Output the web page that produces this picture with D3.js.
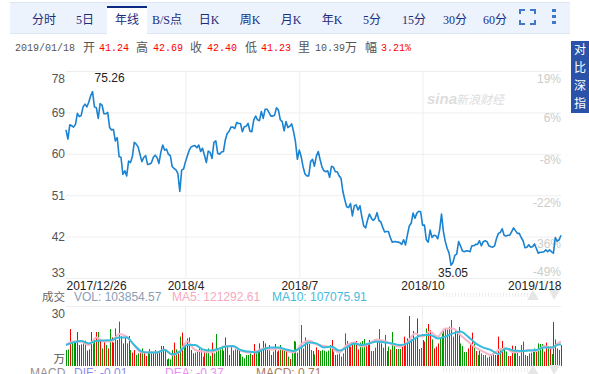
<!DOCTYPE html>
<html>
<head>
<meta charset="utf-8">
<script src="https://cdnjs.cloudflare.com/ajax/libs/d3/7.8.5/d3.min.js"></script>
<style>
  html, body { margin: 0; padding: 0; background: #fff; overflow: hidden; }
  svg { display: block; }
  text { font-family: "Liberation Sans", Arial, sans-serif; }
  .cjk { font-family: "Noto Sans CJK SC", sans-serif; }
  .tab { font-family: "Liberation Serif", "Noto Sans CJK SC", serif; }
  .mono { font-family: "Liberation Mono", "Noto Sans CJK SC", monospace; }
</style>
</head>
<body>
<div id="chart"></div>
<script>
// price per trading day
const prices = [
  65.2,63.2,66.3,66.1,65.8,66.4,68.8,68.1,68.3,70.2,
  70.8,70.2,71.2,72.6,73.5,70.2,70.0,67.7,70.9,70.6,
  68.7,68.7,69.0,65.7,65.2,65.3,62.8,63.5,59.4,59.2,
  55.5,56.3,55.2,58.4,58.1,59.4,62.5,62.1,61.5,59.9,
  58.3,59.2,59.6,57.7,57.8,58.0,59.2,59.7,59.2,57.9,
  60.3,61.9,60.8,61.0,59.9,59.6,57.2,56.8,56.5,55.7,
  51.8,56.5,56.7,58.3,59.6,60.8,61.5,61.7,61.8,61.3,
  61.9,60.5,61.2,59.7,58.1,60.6,60.3,59.0,62.5,62.8,
  60.1,59.9,60.4,60.5,63.0,64.4,64.9,65.8,65.8,65.5,
  66.8,66.6,66.6,64.8,65.9,66.0,66.6,64.9,64.8,67.4,
  68.2,67.4,67.2,69.2,67.7,69.7,69.7,69.0,68.2,68.2,
  68.4,70.0,69.5,67.4,67.0,65.0,67.0,65.7,66.0,66.5,
  64.8,62.6,58.8,60.8,59.4,57.2,55.6,55.2,55.2,58.3,
  58.8,57.3,59.5,60.5,58.7,57.1,56.3,56.1,56.3,54.9,
  57.3,57.1,56.1,56.1,55.2,54.7,51.8,50.0,48.5,48.3,
  49.2,46.5,48.7,48.9,47.8,48.7,46.3,44.3,43.9,45.6,
  46.9,46.0,45.5,46.0,47.2,45.5,45.2,44.0,43.0,43.1,
  43.1,41.8,40.8,40.9,40.9,40.8,40.7,40.3,41.3,40.2,
  42.3,44.3,44.9,47.1,46.0,47.1,47.5,47.4,44.5,44.5,
  41.3,40.8,43.4,41.8,42.3,42.2,41.5,43.4,46.9,43.1,
  40.9,39.4,38.4,35.8,36.3,37.9,38.2,40.9,40.0,38.9,
  38.7,38.9,38.9,38.7,40.0,40.0,40.3,40.3,41.1,40.0,
  40.9,41.1,40.9,40.0,39.8,39.7,40.0,41.6,42.7,42.9,
  43.7,42.3,42.1,42.3,42.3,43.1,43.9,43.3,42.7,42.7,
  41.8,41.1,39.6,39.7,40.2,39.7,39.8,40.4,39.4,38.4,
  38.6,38.6,38.7,39.1,38.7,39.1,38.7,38.4,41.8,41.0,
  41.3,42.3
];

// volume in 万 per trading day
const volumes = [
  8,8.3,18.5,12.2,12.2,12.2,17,10.5,10.8,11.3,
  12.7,7.7,8.3,17,11.3,13,17,17,13,8.8,
  12.2,10.5,8.8,18.5,14.3,11.7,18.8,13,22.2,15,
  11.3,14.7,11.3,15,8,6.7,8,5.5,6.3,7.2,
  8.8,6.7,5,7.2,8.5,7.2,7.2,8,7.2,7.2,
  10,10,8,3.3,3.8,3.3,8,11.7,8.3,7.2,
  14.7,16.7,10,10.5,13.8,14.3,8,6.3,6.7,7.2,
  8.8,8.8,4.7,7.2,8,8.8,5,11.7,6.3,16,
  8.8,8.8,9.7,7.7,14.3,9.7,5.5,10.5,7.7,8.3,
  8.3,8,6,4.7,3.8,5.5,5.5,6.3,5.5,11,
  6.3,7.2,11.3,8.8,12.5,11.3,8,10.5,5.5,7.2,
  11,7.2,7.8,10.5,8,8,8.3,4.7,3.5,7.2,
  12.5,12.2,6.7,10,20.5,8.8,14.3,12.2,11,8,
  7.5,5.8,9.3,8,7.5,8,7.7,7.2,7.7,10.5,
  13,7.2,5.5,5.8,6.3,4.7,6.3,16.3,12.5,10.5,
  9.7,10.5,11.3,12.5,8.3,11.7,12.5,13.5,10.5,10.8,
  13,7.5,7.5,9.2,12.5,18.5,11.3,9.2,15.5,7.5,
  9.7,8.3,17,10.5,8.5,8.5,8.5,9.7,14.7,10.5,
  13.8,25,13.3,17.5,13.8,23.8,8.5,9,13,12.2,
  18.8,21,18,13.3,8.8,9.7,11.3,13.8,16.3,18.3,
  18.8,18.3,19.7,23,14.7,18,16.3,19.5,11.3,10,
  7,7,8.8,11.3,16.7,11.3,7.5,5.5,8.3,6.3,
  5.5,5.5,4.2,4.7,5.5,7,5.5,5.5,14.7,8.8,
  12.5,9.2,7.2,5,5,10.2,8,10,8,5,
  10.5,12.2,5.5,5,6.3,6.7,7,8.8,7.2,11.3,
  11,11,7.2,11.7,9.7,9.7,6,22,13.3,8.8,
  8,10.4
];

// 1 = up day (red bar), 0 = down day (green bar)
const upDays = [
  0,0,1,0,0,1,1,1,1,0, 0,1,1,1,0,0,1,0,1,0, 1,0,1,0,1,1,0,1,0,0,
  1,1,0,1,0,1,1,0,0,1, 0,1,1,0,0,1,1,0,1,1, 1,1,0,1,0,0,0,1,0,1,
  0,1,0,1,1,1,1,1,0,0, 0,1,0,1,0,0,0,1,0,0, 0,0,0,1,1,0,1,0,1,0,
  1,1,0,0,0,0,0,0,1,1, 0,0,1,1,1,1,1,0,1,0, 1,0,1,0,1,0,1,0,1,0,
  0,0,1,0,0,1,0,1,1,0, 1,0,1,1,0,0,0,0,0,0, 1,0,1,1,0,0,0,0,0,0,
  1,1,0,1,1,0,0,0,1,1, 1,0,0,0,1,0,1,0,0,1, 0,1,0,0,1,0,0,1,1,0,
  1,1,1,1,0,1,0,0,1,1, 0,1,1,0,1,1,1,0,0,0, 0,0,0,0,0,1,1,1,0,0,
  0,0,1,1,1,0,1,0,1,0, 0,0,0,0,1,0,1,1,1,0, 1,0,0,1,1,1,0,1,0,0,
  0,0,0,1,0,0,0,0,1,0, 0,0,1,1,0,1,0,1,0,0, 0,1
];

// moving averages read at every 4th day, plus the last day
const maDays = [...d3.range(0, 262, 4), 261];
const ma5 = [
  10.5,12.2,12.2,10.5,14.3,12.2,12.2,16,14.7,10.2,6.7,6.8,6.8,8.3,5.5,7.2,12.2,
  8,7.2,6.8,8,10,9.7,7.7,6.7,7.2,8.8,8.3,8.8,7.7,6.8,10.8,12.7,
  10.8,10,9.3,6.7,10.5,11.8,9.7,11.3,13.3,12.5,10.8,9.7,11.7,16.3,14.7,
  17.2,14.7,18.8,18.8,15.5,12.2,9.2,7.2,5.5,8,8.8,6.7,7.2,8,7.5,10,8.8,11.8,
  12.1
];
const ma10 = [
  10.5,11.8,12.5,11.3,12.5,12.8,13,14.3,14.3,10.5,7.2,6.7,6.8,8,5.8,7.2,10.5,
  10.5,8.3,7.7,8.5,9.7,10,8,7.2,6.8,8.3,9.2,9.2,8.3,7.5,9.3,11.8,
  11.3,9.3,9.7,7.7,9.3,11.3,10.5,11.3,12.2,11.8,11.3,10.5,11.3,13.8,15.5,
  15.5,13.8,14.7,16.3,17.2,14.7,11.3,9.2,8,6,8.8,7.7,7.5,7.7,8,9.2,9.2,10.8,
  10.7
];

const priceTicks = [78, 69, 60, 51, 42, 33];
const pctLabels = ['19%', '6%', '-8%', '-22%', '-36%', '-49%'];
const dateTicks = [0, 63, 123, 188, 261];
const dateLabels = ['2017/12/26', '2018/4', '2018/7', '2018/10', '2019/1/18'];
const tabLabels = ['分时', '5日', '年线', 'B/S点', '日K', '周K', '月K', '年K', '5分', '15分', '30分', '60分'];
const quoteNames = ['开', '高', '收', '低'];
const quoteValues = ['41.24', '42.69', '42.40', '41.23'];

const width = 589;
const height = 374;
const left = 66;
const right = 561;
const priceTop = 71;
const priceBottom = 278;
const volTop = 306;
const volBottom = 366;

const svg = d3.select('#chart').append('svg')
  .attr('width', width)
  .attr('height', height);

const x = d3.scaleLinear().domain([0, prices.length - 1]).range([left, right]);
const y = d3.scaleLinear().domain([33, 78]).range([priceBottom, priceTop]);
const yVol = d3.scaleLinear().domain([0, 30]).range([volBottom, volTop]);

// toolbar
const tabX = [44, 85, 127, 167, 209, 250, 291, 332, 372, 414, 455, 495];
svg.append('rect').attr('x', 10).attr('y', 2).attr('width', 560).attr('height', 31)
  .attr('fill', '#edf3fc');
svg.append('line').attr('x1', 10).attr('x2', 570).attr('y1', 2.5).attr('y2', 2.5).attr('stroke', '#dce5f2');
svg.append('line').attr('x1', 10).attr('x2', 570).attr('y1', 33.5).attr('y2', 33.5).attr('stroke', '#dce5f2');
svg.append('rect').attr('x', 107).attr('y', 6).attr('width', 40).attr('height', 28).attr('fill', '#fff');
svg.append('rect').attr('x', 107).attr('y', 6).attr('width', 40).attr('height', 2).attr('fill', '#0c2a82');

svg.selectAll('.tab').data(tabLabels).enter().append('text')
  .attr('class', 'tab')
  .attr('x', (d, i) => tabX[i])
  .attr('y', 24)
  .attr('text-anchor', 'middle')
  .attr('font-size', 12)
  .attr('fill', '#1c2d7c')
  .text(d => d);

// full screen corners and the menu dots
const corners = ['M520 14V10H525', 'M530 10H535V14', 'M520 20V24H525', 'M530 24H535V20'];
svg.selectAll('.corner').data(corners).enter().append('path')
  .attr('class', 'corner')
  .attr('d', d => d)
  .attr('fill', 'none')
  .attr('stroke', '#3f78c8')
  .attr('stroke-width', 2);
svg.selectAll('.dot').data([9, 15, 21]).enter().append('rect')
  .attr('class', 'dot')
  .attr('x', 552).attr('y', d => d)
  .attr('width', 4).attr('height', 3)
  .attr('fill', '#3f78c8');

// quote row
const quoteRow = svg.append('g');
quoteRow.append('text').attr('class', 'mono').attr('x', 15).attr('y', 51)
  .attr('font-size', 10).attr('fill', '#555').text('2019/01/18');
const quoteNameX = [83, 136, 190, 245];
const quoteValueX = [99, 153, 207, 261];
quoteNames.forEach((name, i) => {
  quoteRow.append('text').attr('class', 'cjk').attr('x', quoteNameX[i]).attr('y', 52)
    .attr('font-size', 12).attr('fill', '#555').text(name);
  quoteRow.append('text').attr('class', 'mono').attr('x', quoteValueX[i]).attr('y', 51)
    .attr('font-size', 10).attr('fill', '#f00').text(quoteValues[i]);
});
quoteRow.append('text').attr('class', 'cjk').attr('x', 298).attr('y', 52)
  .attr('font-size', 12).attr('fill', '#555').text('里');
quoteRow.append('text').attr('class', 'mono').attr('x', 315).attr('y', 51)
  .attr('font-size', 10).attr('fill', '#555').text('10.39');
quoteRow.append('text').attr('class', 'cjk').attr('x', 345).attr('y', 52)
  .attr('font-size', 12).attr('fill', '#555').text('万');
quoteRow.append('text').attr('class', 'cjk').attr('x', 365).attr('y', 52)
  .attr('font-size', 12).attr('fill', '#555').text('幅');
quoteRow.append('text').attr('class', 'mono').attr('x', 381).attr('y', 51)
  .attr('font-size', 10).attr('fill', '#f00').text('3.21%');

// side button
svg.append('rect').attr('x', 571).attr('y', 41).attr('width', 18).attr('height', 72).attr('fill', '#2a52a8');
svg.selectAll('.side').data(['对', '比', '深', '指']).enter().append('text')
  .attr('class', 'side cjk')
  .attr('x', 580)
  .attr('y', (d, i) => 54 + i * 18)
  .attr('text-anchor', 'middle')
  .attr('font-size', 12)
  .attr('fill', '#fff')
  .text(d => d);

// price grid and axes
const axisY = svg.append('g')
  .attr('transform', `translate(${left}, 0)`)
  .call(d3.axisLeft(y).tickValues(priceTicks).tickSize(-(right - left)).tickPadding(1));
axisY.select('.domain').remove();
axisY.selectAll('line').attr('stroke', '#eee');
axisY.selectAll('text')
  .attr('font-size', 12)
  .attr('fill', '#555')
  .attr('dy', d => (d === 78 ? 11 : d === 33 ? -2 : 4));

const axisX = svg.append('g')
  .attr('transform', `translate(0, ${priceBottom})`)
  .call(d3.axisBottom(x)
    .tickValues(dateTicks)
    .tickFormat((d, i) => dateLabels[i])
    .tickSize(-(priceBottom - priceTop))
    .tickPadding(3));
axisX.select('.domain').remove();
axisX.selectAll('line')
  .attr('stroke', '#eee')
  .attr('display', (d, i) => (i === 0 || i === 4 ? 'none' : null));
axisX.selectAll('text')
  .attr('font-size', 12)
  .attr('fill', '#222')
  .attr('text-anchor', (d, i) => (i === 0 ? 'start' : i === 4 ? 'end' : 'middle'));

// watermark
svg.append('text').attr('x', 427).attr('y', 104)
  .attr('font-size', 15).attr('font-weight', 'bold').attr('font-style', 'italic')
  .attr('fill', '#ddd').text('sina');
svg.append('text').attr('class', 'cjk').attr('x', 456).attr('y', 104)
  .attr('font-size', 12).attr('font-style', 'italic').attr('fill', '#ddd').text('新浪财经');

// percent labels on the right
const pctDy = [8, 6, 6, 8, 7, -6];
svg.selectAll('.pct').data(priceTicks).enter().append('text')
  .attr('class', 'pct')
  .attr('x', right)
  .attr('y', d => y(d))
  .attr('dy', (d, i) => pctDy[i] + 4)
  .attr('text-anchor', 'end')
  .attr('font-size', 12)
  .attr('fill', '#ccc')
  .text((d, i) => pctLabels[i]);

// price line
const priceLine = d3.line().x((d, i) => x(i)).y(d => y(d));
svg.append('path')
  .datum(prices)
  .attr('d', priceLine)
  .attr('fill', 'none')
  .attr('stroke', '#1a82d0')
  .attr('stroke-width', 1.6)
  .attr('stroke-linejoin', 'round');

// high and low marks
const peakDay = d3.maxIndex(prices);
const lowDay = d3.minIndex(prices);
svg.append('text').attr('x', x(peakDay) + 17).attr('y', y(prices[peakDay]) - 10)
  .attr('text-anchor', 'middle').attr('font-size', 12).attr('fill', '#222').text('75.26');
svg.append('text').attr('x', x(lowDay) + 2).attr('y', y(prices[lowDay]) + 12)
  .attr('text-anchor', 'middle').attr('font-size', 12).attr('fill', '#222').text('35.05');

// volume legend
const legend = [
  { label: 'VOL: 103854.57', px: 74, color: '#8c9db5' },
  { label: 'MA5: 121292.61', px: 172, color: '#f7a8c0' },
  { label: 'MA10: 107075.91', px: 272, color: '#45bcdc' },
];
svg.append('text').attr('class', 'cjk').attr('x', 42).attr('y', 301)
  .attr('font-size', 11.5).attr('fill', '#666').text('成交');
svg.selectAll('.leg').data(legend).enter().append('text')
  .attr('class', 'leg')
  .attr('x', d => d.px).attr('y', 301)
  .attr('font-size', 12)
  .attr('fill', d => d.color)
  .text(d => d.label);

// volume panel
svg.append('line').attr('x1', left).attr('x2', right)
  .attr('y1', volTop + 0.5).attr('y2', volTop + 0.5).attr('stroke', '#eee');
svg.selectAll('.vgrid').data(dateTicks.slice(1, 4)).enter().append('line')
  .attr('class', 'vgrid')
  .attr('x1', d => x(d)).attr('x2', d => x(d))
  .attr('y1', volTop).attr('y2', volBottom)
  .attr('stroke', '#eee');
svg.append('text').attr('x', 65).attr('y', 318).attr('text-anchor', 'end')
  .attr('font-size', 12).attr('fill', '#555').text('30');
svg.append('text').attr('class', 'cjk').attr('x', 65).attr('y', 363).attr('text-anchor', 'end')
  .attr('font-size', 11.5).attr('fill', '#555').text('万');

svg.selectAll('.bar').data(volumes).enter().append('rect')
  .attr('class', 'bar')
  .attr('x', (d, i) => Math.round(x(i)))
  .attr('y', d => yVol(d))
  .attr('width', 1)
  .attr('height', d => volBottom - yVol(d))
  .attr('fill', (d, i) => (upDays[i] ? '#f00' : '#090'));

const maLine = d3.line()
  .x((d, i) => x(maDays[i]))
  .y(d => yVol(d))
  .curve(d3.curveMonotoneX);
svg.append('path').datum(ma5).attr('d', maLine)
  .attr('fill', 'none').attr('stroke', '#f9b4c8').attr('stroke-width', 2);
svg.append('path').datum(ma10).attr('d', maLine)
  .attr('fill', 'none').attr('stroke', '#36bcdc').attr('stroke-width', 2);

// range slider ghosts around the volume panel
[295, 370].forEach(py => {
  svg.append('line').attr('x1', 443).attr('x2', 530).attr('y1', py).attr('y2', py)
    .attr('stroke', '#eee').attr('stroke-width', 4).attr('stroke-dasharray', '1 2');
  svg.append('path').attr('d', `M527 ${py + 5}L533 ${py - 5}L539 ${py + 5}Z`).attr('fill', '#e6e6e6');
  svg.append('path').attr('d', `M549 ${py - 5}L554 ${py + 5}L560 ${py - 5}Z`).attr('fill', '#e6e6e6');
});

// macd legend, cut off by the window edge
const macdLegend = [
  { label: 'MACD', px: 30, color: '#998f8f' },
  { label: 'DIF: -0.01', px: 74, color: '#8c8cf0' },
  { label: 'DEA: -0.37', px: 165, color: '#e98cf0' },
  { label: 'MACD: 0.71', px: 256, color: '#a8785a' },
];
svg.selectAll('.macd').data(macdLegend).enter().append('text')
  .attr('class', 'macd')
  .attr('x', d => d.px).attr('y', 377)
  .attr('font-size', 12)
  .attr('fill', d => d.color)
  .text(d => d.label);
</script>
</body>
</html>
